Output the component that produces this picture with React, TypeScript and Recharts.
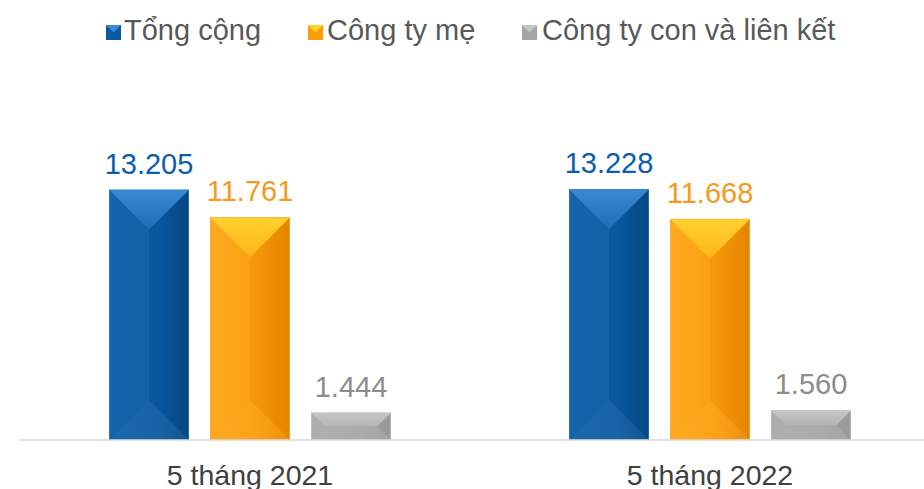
import { BarChart, Bar, XAxis, YAxis, Legend, LabelList } from 'recharts'

const categories = ['5 tháng 2021', '5 tháng 2022']
const tongCong = [13.205, 13.228]
const congTyMe = [11.761, 11.668]
const congTyCon = [1.444, 1.56]

const FONT = '"Liberation Sans", Arial, sans-serif'

const data = categories.map((name, i) => ({
  name,
  tong: tongCong[i],
  me: congTyMe[i],
  con: congTyCon[i],
}))

type Palette = { left: string; mid: string; right: string; top: string; topHi: string; edge: string; label: string }

const blue: Palette = {
  left: '#0b5fa9',
  mid: '#0a5aa3',
  right: '#054a88',
  top: '#1a6cb8',
  topHi: '#3a8bd2',
  edge: '#3d7fc0',
  label: '#0b5cad',
}
const orange: Palette = {
  left: '#ffa616',
  mid: '#fb9c0a',
  right: '#ec8900',
  top: '#ffb51a',
  topHi: '#ffd22e',
  edge: '#f3b04a',
  label: '#f39a1f',
}
const gray: Palette = {
  left: '#aaaaaa',
  mid: '#a6a6a6',
  right: '#9e9e9e',
  top: '#b4b4b4',
  topHi: '#c6c6c6',
  edge: '#c4c4c4',
  label: '#8c8c8c',
}

const legendItems = [
  { text: 'Tổng cộng', p: blue, x: 106, tx: 124 },
  { text: 'Công ty mẹ', p: orange, x: 308, tx: 327 },
  { text: 'Công ty con và liên kết', p: gray, x: 522, tx: 542 },
]

const pts = (a: number[][]) => a.map((q) => q.join(',')).join(' ')

function makeShape(p: Palette, id: string) {
  return (props: any) => {
    const { x, y, width: w, height: h } = props
    if (!h || h <= 0) return <g />
    const d = Math.min(w / 2, h / 2)
    return (
      <g>
        <defs>
          <linearGradient id={id + 'T'} x1="0" y1="0" x2="0" y2="1">
            <stop offset="0%" stopColor={p.topHi} />
            <stop offset="100%" stopColor={p.top} />
          </linearGradient>
          <linearGradient id={id + 'H'} x1="0" y1="0" x2="1" y2="0">
            <stop offset="0%" stopColor={p.left} />
            <stop offset="60%" stopColor={p.mid} />
            <stop offset="100%" stopColor={p.right} />
          </linearGradient>
        </defs>
        <rect x={x} y={y} width={w} height={h} fill={`url(#${id}H)`} />
        <polygon points={pts([[x, y], [x + d, y + d], [x + d, y + h - d], [x, y + h]])} fill="#fff" fillOpacity={0.04} />
        <polygon points={pts([[x + w, y], [x + w - d, y + d], [x + w - d, y + h - d], [x + w, y + h]])} fill="#000" fillOpacity={0.03} />
        <polygon points={pts([[x, y + h], [x + w, y + h], [x + w - d, y + h - d], [x + d, y + h - d]])} fill="#fff" fillOpacity={0.06} />
        <polygon points={pts([[x, y], [x + w, y], [x + w - d, y + d], [x + d, y + d]])} fill={`url(#${id}T)`} />
        <rect x={x + 0.5} y={y + 0.5} width={w - 1} height={h - 1} fill="none" stroke={p.edge} strokeWidth={1} strokeOpacity={0.6} />
      </g>
    )
  }
}

function makeLabel(color: string) {
  return (props: any) => {
    const { x, y, width, value } = props
    return (
      <text x={x + width / 2} y={y - 16} textAnchor="middle" fill={color} fontSize={29} fontFamily={FONT}>
        {Number(value).toFixed(3)}
      </text>
    )
  }
}

function renderTick(props: any) {
  const { x, y, payload } = props
  return (
    <text x={x} y={y + 37} textAnchor="middle" fill="#404040" fontSize={28.5} fontFamily={FONT}>
      {payload.value}
    </text>
  )
}

function renderLegend() {
  return (
    <svg width={924} height={50} style={{ display: 'block' }}>
      {legendItems.map((it) => (
        <g key={it.text}>
          <rect x={it.x} y={25} width={15} height={15} fill={it.p.mid} />
          <polygon points={pts([[it.x, 25], [it.x + 15, 25], [it.x + 7.5, 32.5]])} fill={it.p.topHi} />
          <text x={it.tx} y={40} fill="#595959" fontSize={29} fontFamily={FONT}>
            {it.text}
          </text>
        </g>
      ))}
    </svg>
  )
}

export default function App() {
  return (
    <div style={{ position: 'absolute', left: 0, top: 0, width: 924, height: 489, overflow: 'hidden', background: '#fff' }}>
      <BarChart
        width={940}
        height={489}
        data={data}
        margin={{ top: 11, right: 0, left: 20, bottom: 0 }}
        barSize={80}
        barGap={21}
      >
        <Legend verticalAlign="top" wrapperStyle={{ top: 0, left: 0, width: 924, height: 50 }} content={renderLegend} />
        <XAxis
          dataKey="name"
          height={49}
          axisLine={{ stroke: '#d9d9d9', strokeWidth: 1.5 }}
          tickLine={false}
          tick={renderTick}
          interval={0}
        />
        <YAxis hide domain={[0, 20]} />
        <Bar dataKey="tong" shape={makeShape(blue, 'gb')} isAnimationActive={false}>
          <LabelList dataKey="tong" content={makeLabel(blue.label)} />
        </Bar>
        <Bar dataKey="me" shape={makeShape(orange, 'go')} isAnimationActive={false}>
          <LabelList dataKey="me" content={makeLabel(orange.label)} />
        </Bar>
        <Bar dataKey="con" shape={makeShape(gray, 'gg')} isAnimationActive={false}>
          <LabelList dataKey="con" content={makeLabel(gray.label)} />
        </Bar>
      </BarChart>
    </div>
  )
}
